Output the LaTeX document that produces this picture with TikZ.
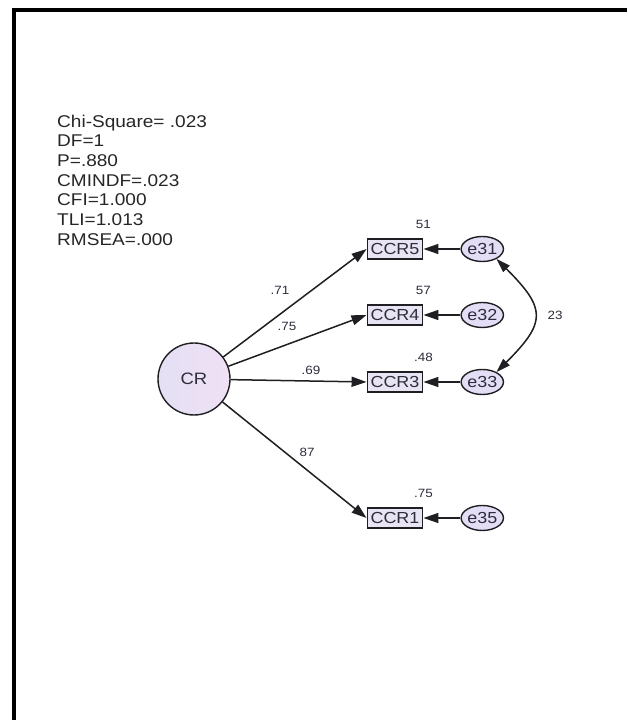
\documentclass[tikz,border=0pt]{standalone}
\usepackage{fontspec}
\setmainfont{Liberation Sans}[FakeStretch=1.12]
\usetikzlibrary{positioning,arrows.meta,shapes.geometric}
\definecolor{linedark}{RGB}{30,30,35}
\definecolor{txtdark}{RGB}{45,45,60}
\definecolor{boxfill}{RGB}{232,228,244}
\definecolor{errfill}{RGB}{228,221,246}
\definecolor{latfill}{RGB}{228,224,244}
\definecolor{latpink}{RGB}{240,224,244}

\begin{document}
\begin{tikzpicture}[x=1pt,y=1pt,
		obs/.style={draw=linedark, line width=1.9pt, fill=boxfill, minimum width=55pt, minimum height=20pt, inner sep=0pt, text=txtdark, font=\fontsize{16}{16}\selectfont},
		err/.style={ellipse, draw=linedark, line width=1.4pt, fill=errfill, minimum width=42pt, minimum height=25pt, inner sep=0pt, text=txtdark, font=\fontsize{16}{16}\selectfont},
		lat/.style={circle, draw=linedark, line width=1.4pt, left color=latfill, right color=latpink, minimum size=72pt, inner sep=0pt, text=txtdark, font=\fontsize{16.5}{16.5}\selectfont},
		lbl/.style={inner sep=0pt, text=txtdark, font=\fontsize{12}{12}\selectfont},
		arr/.style={-{Triangle[length=15pt,width=10pt]}, line width=1.5pt, draw=linedark}]
	\useasboundingbox (0,0) rectangle (627,720);
	\draw[line width=4pt] (14,0) -- (14,709.5) -- (627,709.5);
	% fit indices
	\node[anchor=north west, align=left, inner sep=0pt, text=black!85, font=\fontsize{17}{19.7}\selectfont] (fit) at (57,605.5)
		{Chi-Square= .023\\DF=1\\P=.880\\CMINDF=.023\\CFI=1.000\\TLI=1.013\\RMSEA=.000};
	% latent and indicators
	\node[lat] (cr) at (194,341) {CR};
	\node[obs] (ccr5) at (395,471) {CCR5};
	\node[obs] (ccr4) at (395,405) {CCR4};
	\node[obs] (ccr3) at (395,338) {CCR3};
	\node[obs] (ccr1) at (395,202) {CCR1};
	\node[err, right=37pt of ccr5] (e31) {e31};
	\node[err, right=37pt of ccr4] (e32) {e32};
	\node[err, right=37pt of ccr3] (e33) {e33};
	\node[err, right=37pt of ccr1] (e35) {e35};
	\node[lbl, above=9pt of ccr5.north east] (r5) {51};
	\node[lbl, above=9pt of ccr4.north east] (r4) {57};
	\node[lbl, above=9pt of ccr3.north east] (r3) {.48};
	\node[lbl, above=9pt of ccr1.north east] (r1) {.75};
	\foreach \i in {5,4,3,1}
		\draw[arr] (cr) -- (ccr\i.west);
	\draw[arr] (e31) -- (ccr5);
	\draw[arr] (e32) -- (ccr4);
	\draw[arr] (e33) -- (ccr3);
	\draw[arr] (e35) -- (ccr1);
	\draw[arr, {Triangle[length=14pt,width=9pt]}-{Triangle[length=14pt,width=9pt]}] (e31.-35) to[out=-45,in=45,looseness=1.6] (e33.35);
	% estimates
	\node[lbl] (l5) at (280,430) {.71};
	\node[lbl] (l4) at (287,394) {.75};
	\node[lbl] (l3) at (311,350) {.69};
	\node[lbl] (l1) at (307,268) {87};
	\node[lbl] (c13) at (555,405) {23};
\end{tikzpicture}
\end{document}
